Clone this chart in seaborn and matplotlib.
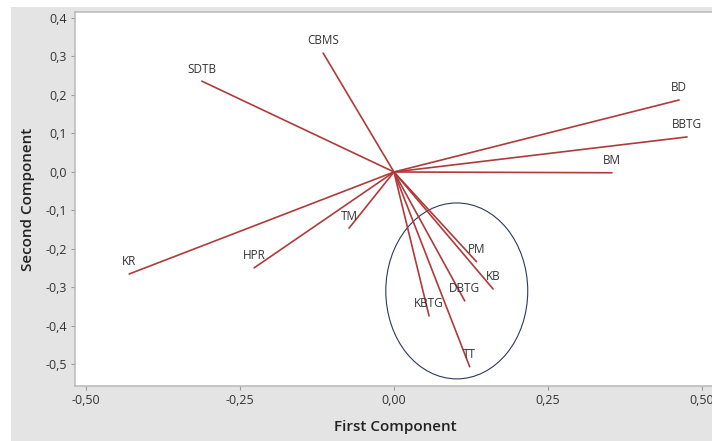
import matplotlib.pyplot as plt
import matplotlib.ticker as mticker
from matplotlib.patches import Ellipse, Rectangle
import pandas as pd
import seaborn as sns

# loading vectors (first, second component)
variables = ["BD", "BBTG", "BM", "CBMS", "SDTB", "KR", "HPR", "TM",
             "PM", "KB", "DBTG", "KBTG", "TT"]
first_comp = [0.463, 0.476, 0.354, -0.115, -0.312, -0.430, -0.227, -0.073,
              0.134, 0.161, 0.115, 0.057, 0.123]
second_comp = [0.187, 0.091, -0.002, 0.309, 0.236, -0.265, -0.249, -0.146,
               -0.233, -0.304, -0.335, -0.374, -0.506]

x_ticks = [-0.50, -0.25, 0.00, 0.25, 0.50]
y_ticks = [-0.5, -0.4, -0.3, -0.2, -0.1, 0.0, 0.1, 0.2, 0.3, 0.4]

# each vector starts at the origin
rows = []
for v, x, y in zip(variables, first_comp, second_comp):
    rows.append({"var": v, "x": 0.0, "y": 0.0, "step": 0})
    rows.append({"var": v, "x": x, "y": y, "step": 1})
df = pd.DataFrame(rows)

sns.set_theme(style="white")
plt.rcParams['font.family'] = ['Open Sans', 'DejaVu Sans']

fig = plt.figure(figsize=(7.12, 4.41), dpi=100, facecolor="white")
# grey panel behind the plot, with a thin white margin on top and left
fig.patches.append(Rectangle((11 / 712, 0), 1, 1 - 7 / 441, transform=fig.transFigure,
                             facecolor="#e4e4e4", edgecolor="none", zorder=-1))

ax = fig.add_axes([75 / 712, 1 - 386 / 441, (716 - 75) / 712, (386 - 12) / 441])
ax.set_facecolor("white")

line_col = "#b03a3a"
sns.lineplot(data=df, x="x", y="y", units="var", estimator=None, sort=False,
             color=line_col, linewidth=1.2, ax=ax, legend=False)

for v, x, y in zip(variables, first_comp, second_comp):
    ax.annotate(v, (x, y), xytext=(0, 4), textcoords="offset points",
                ha="center", va="bottom", fontsize=8.5, color="#333333")

ax.add_patch(Ellipse((0.102, -0.309), 0.2305, 0.457, fill=False,
                     edgecolor="#2b3a5c", linewidth=0.8))

ax.set_xlim(-0.518, 0.523)
ax.set_ylim(-0.556, 0.4156)
ax.set_xticks(x_ticks)
ax.set_yticks(y_ticks)
ax.xaxis.set_major_formatter(mticker.FuncFormatter(lambda v, p: f"{v:.2f}".replace(".", ",")))
ax.yaxis.set_major_formatter(mticker.FuncFormatter(
    lambda v, p: f"{v:.1f}".replace(".", ",").replace("-0,0", "0,0")))
ax.tick_params(axis="both", direction="out", length=3, width=0.8, color="#999999",
               labelsize=9, labelcolor="#333333", bottom=True, left=True, pad=3)

for s in ax.spines.values():
    s.set_color("#bdbdbd")
    s.set_linewidth(1.2)

ax.set_xlabel("First Component", fontsize=11, fontweight="semibold", color="#222222", labelpad=9)
ax.set_ylabel("Second Component", fontsize=11, fontweight="semibold", color="#222222", labelpad=7)

fig.savefig("out.png", dpi=100, facecolor=fig.get_facecolor())
plt.close()
